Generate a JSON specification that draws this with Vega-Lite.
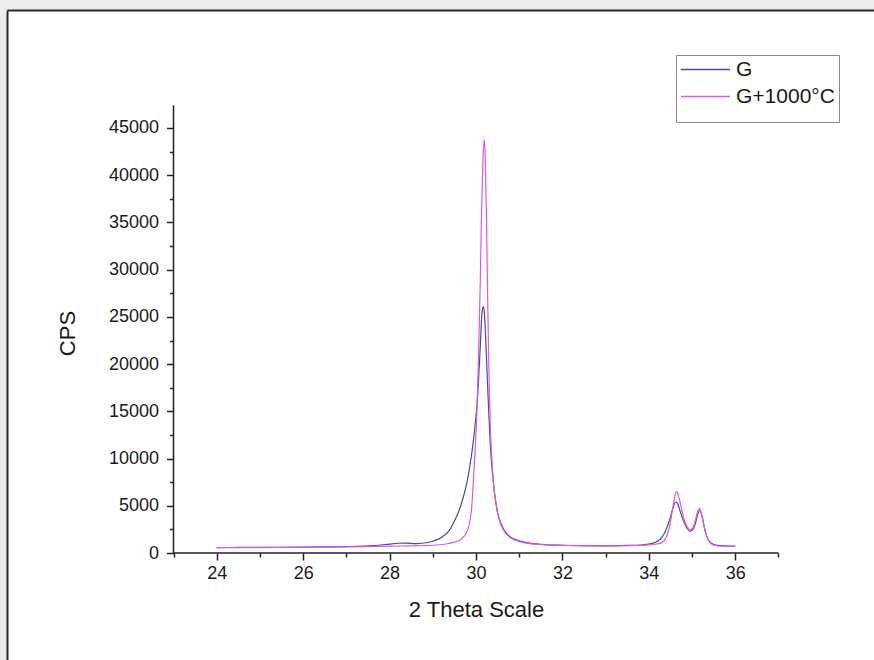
{
  "$schema": "https://vega.github.io/schema/vega-lite/v6.json",
  "width": 867,
  "height": 650,
  "autosize": {"type": "none"},
  "padding": {"left": 7, "top": 10, "right": 0, "bottom": 0},
  "background": "#ececec",
  "config": {
    "view": {"fill": "white", "stroke": null},
    "font": "Liberation Sans",
    "axis": {"grid": false}
  },
  "datasets": {
    "xrd": [
      {"t": 24.0, "cps": 580, "s": "G"}, {"t": 24.5, "cps": 590, "s": "G"}, {"t": 25.0, "cps": 600, "s": "G"},
      {"t": 25.5, "cps": 610, "s": "G"}, {"t": 26.0, "cps": 620, "s": "G"}, {"t": 26.5, "cps": 650, "s": "G"},
      {"t": 27.0, "cps": 680, "s": "G"}, {"t": 27.5, "cps": 750, "s": "G"}, {"t": 27.8, "cps": 850, "s": "G"},
      {"t": 28.0, "cps": 950, "s": "G"}, {"t": 28.2, "cps": 1030, "s": "G"}, {"t": 28.4, "cps": 1040, "s": "G"},
      {"t": 28.6, "cps": 990, "s": "G"}, {"t": 28.8, "cps": 1060, "s": "G"}, {"t": 29.0, "cps": 1250, "s": "G"},
      {"t": 29.2, "cps": 1650, "s": "G"}, {"t": 29.4, "cps": 2500, "s": "G"}, {"t": 29.5, "cps": 3400, "s": "G"},
      {"t": 29.6, "cps": 4400, "s": "G"}, {"t": 29.7, "cps": 5800, "s": "G"}, {"t": 29.8, "cps": 7700, "s": "G"},
      {"t": 29.9, "cps": 10500, "s": "G"}, {"t": 29.95, "cps": 12300, "s": "G"}, {"t": 30.0, "cps": 14500, "s": "G"},
      {"t": 30.05, "cps": 17500, "s": "G"}, {"t": 30.1, "cps": 22000, "s": "G"}, {"t": 30.14, "cps": 25500, "s": "G"},
      {"t": 30.17, "cps": 26100, "s": "G"}, {"t": 30.2, "cps": 25000, "s": "G"}, {"t": 30.24, "cps": 21000, "s": "G"},
      {"t": 30.28, "cps": 16500, "s": "G"}, {"t": 30.32, "cps": 12500, "s": "G"}, {"t": 30.36, "cps": 9500, "s": "G"},
      {"t": 30.4, "cps": 7500, "s": "G"}, {"t": 30.45, "cps": 5600, "s": "G"}, {"t": 30.5, "cps": 4300, "s": "G"},
      {"t": 30.6, "cps": 2900, "s": "G"}, {"t": 30.7, "cps": 2100, "s": "G"}, {"t": 30.8, "cps": 1700, "s": "G"},
      {"t": 30.9, "cps": 1450, "s": "G"}, {"t": 31.0, "cps": 1300, "s": "G"}, {"t": 31.2, "cps": 1080, "s": "G"},
      {"t": 31.5, "cps": 920, "s": "G"}, {"t": 32.0, "cps": 820, "s": "G"}, {"t": 32.5, "cps": 780, "s": "G"},
      {"t": 33.0, "cps": 760, "s": "G"}, {"t": 33.5, "cps": 800, "s": "G"}, {"t": 33.8, "cps": 850, "s": "G"},
      {"t": 34.0, "cps": 950, "s": "G"}, {"t": 34.1, "cps": 1050, "s": "G"}, {"t": 34.2, "cps": 1250, "s": "G"},
      {"t": 34.3, "cps": 1650, "s": "G"}, {"t": 34.4, "cps": 2500, "s": "G"}, {"t": 34.5, "cps": 3800, "s": "G"},
      {"t": 34.56, "cps": 4800, "s": "G"}, {"t": 34.62, "cps": 5400, "s": "G"}, {"t": 34.67, "cps": 5200, "s": "G"},
      {"t": 34.72, "cps": 4500, "s": "G"}, {"t": 34.8, "cps": 3400, "s": "G"}, {"t": 34.88, "cps": 2650, "s": "G"},
      {"t": 34.95, "cps": 2300, "s": "G"}, {"t": 35.02, "cps": 2500, "s": "G"}, {"t": 35.08, "cps": 3200, "s": "G"},
      {"t": 35.13, "cps": 4100, "s": "G"}, {"t": 35.18, "cps": 4500, "s": "G"}, {"t": 35.23, "cps": 3900, "s": "G"},
      {"t": 35.28, "cps": 2800, "s": "G"}, {"t": 35.33, "cps": 1900, "s": "G"}, {"t": 35.4, "cps": 1250, "s": "G"},
      {"t": 35.5, "cps": 900, "s": "G"}, {"t": 35.6, "cps": 800, "s": "G"}, {"t": 35.8, "cps": 740, "s": "G"},
      {"t": 36.0, "cps": 720, "s": "G"},

      {"t": 24.0, "cps": 560, "s": "G+1000°C"}, {"t": 25.0, "cps": 580, "s": "G+1000°C"}, {"t": 26.0, "cps": 610, "s": "G+1000°C"},
      {"t": 27.0, "cps": 650, "s": "G+1000°C"}, {"t": 27.5, "cps": 680, "s": "G+1000°C"}, {"t": 28.0, "cps": 720, "s": "G+1000°C"},
      {"t": 28.5, "cps": 760, "s": "G+1000°C"}, {"t": 29.0, "cps": 820, "s": "G+1000°C"}, {"t": 29.3, "cps": 950, "s": "G+1000°C"},
      {"t": 29.5, "cps": 1150, "s": "G+1000°C"}, {"t": 29.63, "cps": 1380, "s": "G+1000°C"}, {"t": 29.7, "cps": 1650, "s": "G+1000°C"},
      {"t": 29.79, "cps": 2260, "s": "G+1000°C"}, {"t": 29.85, "cps": 3200, "s": "G+1000°C"}, {"t": 29.9, "cps": 4800, "s": "G+1000°C"},
      {"t": 29.94, "cps": 7700, "s": "G+1000°C"}, {"t": 29.98, "cps": 11000, "s": "G+1000°C"}, {"t": 30.02, "cps": 14800, "s": "G+1000°C"},
      {"t": 30.06, "cps": 21000, "s": "G+1000°C"}, {"t": 30.1, "cps": 29000, "s": "G+1000°C"}, {"t": 30.13, "cps": 36500, "s": "G+1000°C"},
      {"t": 30.16, "cps": 41500, "s": "G+1000°C"}, {"t": 30.19, "cps": 43800, "s": "G+1000°C"}, {"t": 30.21, "cps": 42500, "s": "G+1000°C"},
      {"t": 30.24, "cps": 36000, "s": "G+1000°C"}, {"t": 30.27, "cps": 27000, "s": "G+1000°C"}, {"t": 30.3, "cps": 19000, "s": "G+1000°C"},
      {"t": 30.33, "cps": 13500, "s": "G+1000°C"}, {"t": 30.37, "cps": 9800, "s": "G+1000°C"}, {"t": 30.4, "cps": 7700, "s": "G+1000°C"},
      {"t": 30.45, "cps": 5600, "s": "G+1000°C"}, {"t": 30.5, "cps": 4200, "s": "G+1000°C"}, {"t": 30.56, "cps": 3200, "s": "G+1000°C"},
      {"t": 30.65, "cps": 2300, "s": "G+1000°C"}, {"t": 30.79, "cps": 1650, "s": "G+1000°C"}, {"t": 31.0, "cps": 1200, "s": "G+1000°C"},
      {"t": 31.17, "cps": 1050, "s": "G+1000°C"}, {"t": 31.5, "cps": 900, "s": "G+1000°C"}, {"t": 32.0, "cps": 800, "s": "G+1000°C"},
      {"t": 33.0, "cps": 760, "s": "G+1000°C"}, {"t": 33.5, "cps": 770, "s": "G+1000°C"}, {"t": 34.0, "cps": 850, "s": "G+1000°C"},
      {"t": 34.18, "cps": 950, "s": "G+1000°C"}, {"t": 34.3, "cps": 1100, "s": "G+1000°C"}, {"t": 34.41, "cps": 1750, "s": "G+1000°C"},
      {"t": 34.5, "cps": 3300, "s": "G+1000°C"}, {"t": 34.56, "cps": 5000, "s": "G+1000°C"}, {"t": 34.62, "cps": 6300, "s": "G+1000°C"},
      {"t": 34.65, "cps": 6490, "s": "G+1000°C"}, {"t": 34.69, "cps": 6000, "s": "G+1000°C"}, {"t": 34.75, "cps": 4800, "s": "G+1000°C"},
      {"t": 34.82, "cps": 3500, "s": "G+1000°C"}, {"t": 34.9, "cps": 2700, "s": "G+1000°C"}, {"t": 34.95, "cps": 2450, "s": "G+1000°C"},
      {"t": 35.02, "cps": 2700, "s": "G+1000°C"}, {"t": 35.08, "cps": 3500, "s": "G+1000°C"}, {"t": 35.13, "cps": 4400, "s": "G+1000°C"},
      {"t": 35.17, "cps": 4730, "s": "G+1000°C"}, {"t": 35.22, "cps": 4100, "s": "G+1000°C"}, {"t": 35.28, "cps": 2800, "s": "G+1000°C"},
      {"t": 35.34, "cps": 1730, "s": "G+1000°C"}, {"t": 35.4, "cps": 1200, "s": "G+1000°C"}, {"t": 35.49, "cps": 850, "s": "G+1000°C"},
      {"t": 35.6, "cps": 760, "s": "G+1000°C"}, {"t": 35.8, "cps": 730, "s": "G+1000°C"}, {"t": 36.0, "cps": 700, "s": "G+1000°C"}
    ]
  },
  "resolve": {"axis": {"x": "independent", "y": "independent"}},
  "layer": [
    {
      "data": {"values": [{}]},
      "mark": {"type": "rule", "color": "#222222", "strokeWidth": 1.5},
      "encoding": {
        "x": {"datum": 23, "type": "quantitative",
          "scale": {"domain": [19.147, 39.21], "nice": false, "zero": false},
          "axis": {"orient": "top", "offset": 0, "domain": true, "domainColor": "#2a2a2a", "domainWidth": 2, "ticks": false, "labels": false, "title": null}},
        "x2": {"datum": 37},
        "y": {"datum": 0, "type": "quantitative",
          "scale": {"domain": [-11329, 57494], "nice": false, "zero": false},
          "axis": {"orient": "left", "offset": 0, "domain": true, "domainColor": "#2a2a2a", "domainWidth": 2, "ticks": false, "labels": false, "title": null}}
      }
    },
    {
      "data": {"values": [{}]},
      "mark": {"type": "rule", "color": "#222222", "strokeWidth": 1.5},
      "encoding": {
        "x": {"datum": 23, "type": "quantitative",
          "scale": {"domain": [19.147, 39.21], "nice": false, "zero": false},
          "axis": {"orient": "bottom", "offset": -107, "values": [23, 25, 27, 29, 31, 33, 35, 37], "domain": false, "tickSize": 4, "tickWidth": 1.5, "tickColor": "#222222", "labels": false, "title": null}},
        "y": {"datum": 0, "type": "quantitative",
          "scale": {"domain": [-11329, 57494], "nice": false, "zero": false},
          "axis": {"orient": "left", "offset": -166.5, "values": [2500, 7500, 12500, 17500, 22500, 27500, 32500, 37500, 42500], "domain": false, "tickSize": 4, "tickWidth": 1.5, "tickColor": "#222222", "labels": false, "title": null}},
        "y2": {"datum": 47400}
      }
    },
    {
      "data": {"name": "xrd"},
      "mark": {"type": "line", "strokeWidth": 1.2, "interpolate": "monotone"},
      "encoding": {
        "x": {"field": "t", "type": "quantitative",
          "scale": {"domain": [19.147, 39.21], "nice": false, "zero": false},
          "axis": {"orient": "bottom", "offset": -107, "values": [24, 26, 28, 30, 32, 34, 36], "format": "d", "domain": false, "tickSize": 7, "tickWidth": 1.5, "tickColor": "#222222",
            "labelFontSize": 18, "labelColor": "#1a1a1a", "labelPadding": 4,
            "title": "2 Theta Scale", "titleFontSize": 22, "titleFontWeight": "normal", "titleColor": "#1a1a1a",
            "titleX": 469, "titleY": 56, "titleAlign": "center", "titleBaseline": "middle"}},
        "y": {"field": "cps", "type": "quantitative",
          "scale": {"domain": [-11329, 57494], "nice": false, "zero": false},
          "axis": {"orient": "left", "offset": -166.5, "values": [0, 5000, 10000, 15000, 20000, 25000, 30000, 35000, 40000, 45000], "format": "d", "domain": false, "tickSize": 7, "tickWidth": 1.5, "tickColor": "#222222",
            "labelFontSize": 18, "labelColor": "#1a1a1a", "labelPadding": 8,
            "title": "CPS", "titleFontSize": 22, "titleFontWeight": "normal", "titleColor": "#1a1a1a",
            "titleX": -106.5, "titleY": 323, "titleAngle": 270, "titleAlign": "center", "titleBaseline": "middle"}},
        "color": {"field": "s", "type": "nominal",
          "scale": {"domain": ["G", "G+1000°C"], "range": ["#4848a8", "#d85cdc"]},
          "legend": {"orient": "none", "legendX": 669, "legendY": 45, "title": " ", "titleOrient": "bottom", "titleFontSize": 12, "titlePadding": 0,
            "symbolType": "stroke", "symbolSize": 2400, "symbolStrokeWidth": 1.5, "labelFontSize": 21, "labelColor": "#1a1a1a", "labelOffset": 5,
            "clipHeight": 21, "strokeColor": "#888888", "fillColor": "white", "padding": 4, "rowPadding": 5}}
      }
    }
  ]
}
